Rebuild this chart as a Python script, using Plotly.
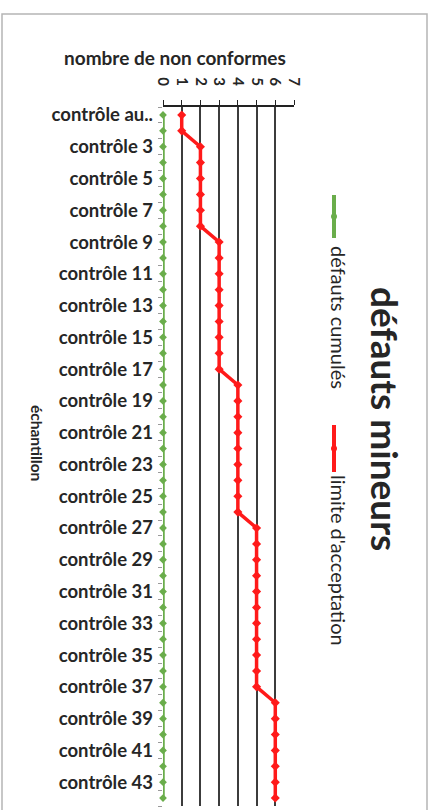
import plotly.graph_objects as go

# Sample labels (first one truncated the way the source sheet shows it)
categories = ["contrôle au.."] + [f"contrôle {i}" for i in range(2, 45)]

# Cumulated minor defects per sample
defauts_cumules = [0] * 44

# Acceptance limit per sample
limite_acceptation = (
    [1] * 2 + [2] * 6 + [3] * 9 + [4] * 9 + [5] * 11 + [6] * 7
)

x_ticks = [0, 1, 2, 3, 4, 5, 6, 7]

W, H = 434, 810
L, R, T, B = 163, 140, 107, 4
PW, PH = W - L - R, H - T - B


def px(x):
    return (x - L) / PW


def py(y):
    return (H - B - y) / PH


GREEN = "#6aad4b"
RED = "#ff1a1a"
TXT = "#262626"
FONT = "Lato"

fig = go.Figure()
fig.add_trace(go.Scatter(
    x=defauts_cumules, y=categories, mode="lines+markers", name="défauts cumulés",
    line=dict(color=GREEN, width=3.5), marker=dict(symbol="diamond", size=6, color=GREEN),
    cliponaxis=False,
))
fig.add_trace(go.Scatter(
    x=limite_acceptation, y=categories, mode="lines+markers", name="limite d'acceptation",
    line=dict(color=RED, width=3.5), marker=dict(symbol="diamond", size=7, color=RED),
    cliponaxis=False,
))

ticktext = [c if i % 2 == 0 else "" for i, c in enumerate(categories)]
n = len(categories)

fig.update_layout(
    width=W, height=H, margin=dict(l=L, r=R, t=T, b=B, autoexpand=False),
    paper_bgcolor="white", plot_bgcolor="white", showlegend=False,
    font=dict(family=FONT, color=TXT),
    xaxis=dict(
        side="top", range=[0, 7], tickvals=x_ticks, tickangle=90,
        showgrid=True, gridcolor="#3c3c3c", gridwidth=1.6,
        showline=True, linecolor="#222222", linewidth=1.6,
        ticks="outside", ticklen=5, tickcolor="#222222", tickwidth=1.4,
        tickfont=dict(size=15, color=TXT, family=FONT, weight="bold"),
        ticklabelstandoff=9, zeroline=False, automargin=False,
    ),
    yaxis=dict(
        type="category", range=[n - 0.5, -0.5], categoryorder="array",
        categoryarray=categories, tickvals=categories, ticktext=ticktext,
        tickson="boundaries", ticks="outside", ticklen=4, tickcolor="#9a9a9a",
        showgrid=False, showline=False, zeroline=False,
        tickfont=dict(size=18.5, color=TXT, family=FONT, weight="bold"),
        ticklabelstandoff=9, automargin=False,
    ),
)

# Outer frame of the chart area
fig.add_shape(type="rect", xref="paper", yref="paper",
              x0=px(2), x1=px(427), y0=py(812), y1=py(14),
              line=dict(color="#b5b5b5", width=1.5), layer="below")


def label(text, x, y, size, angle=0, bold=True):
    fig.add_annotation(xref="paper", yref="paper", x=px(x), y=py(y),
                       xanchor="center", yanchor="middle",
                       text=text, showarrow=False, textangle=angle,
                       font=dict(size=size, color=TXT, family=FONT,
                                 weight="bold" if bold else "normal"))


# Axis titles and chart title
label("nombre de non conformes", 175, 58, 19)
label("échantillon", 37, 443, 15.5, 90)
label("défauts mineurs", 386, 419, 37, 90)

# Vertical legend entries
legend_items = [("défauts cumulés", GREEN, 195, 238, 317),
                ("limite d'acceptation", RED, 425, 472, 560)]
for text, color, y0, y1, ytext in legend_items:
    fig.add_shape(type="line", xref="paper", yref="paper",
                  x0=px(334), x1=px(334), y0=py(y0), y1=py(y1),
                  line=dict(color=color, width=4))
    fig.add_shape(type="circle", xref="paper", yref="paper",
                  x0=px(331), x1=px(337), y0=py((y0 + y1) / 2 + 3), y1=py((y0 + y1) / 2 - 3),
                  fillcolor=color, line=dict(color=color, width=0))
    label(text, 339, ytext, 20, 90, bold=False)

fig.write_html("out.html")
